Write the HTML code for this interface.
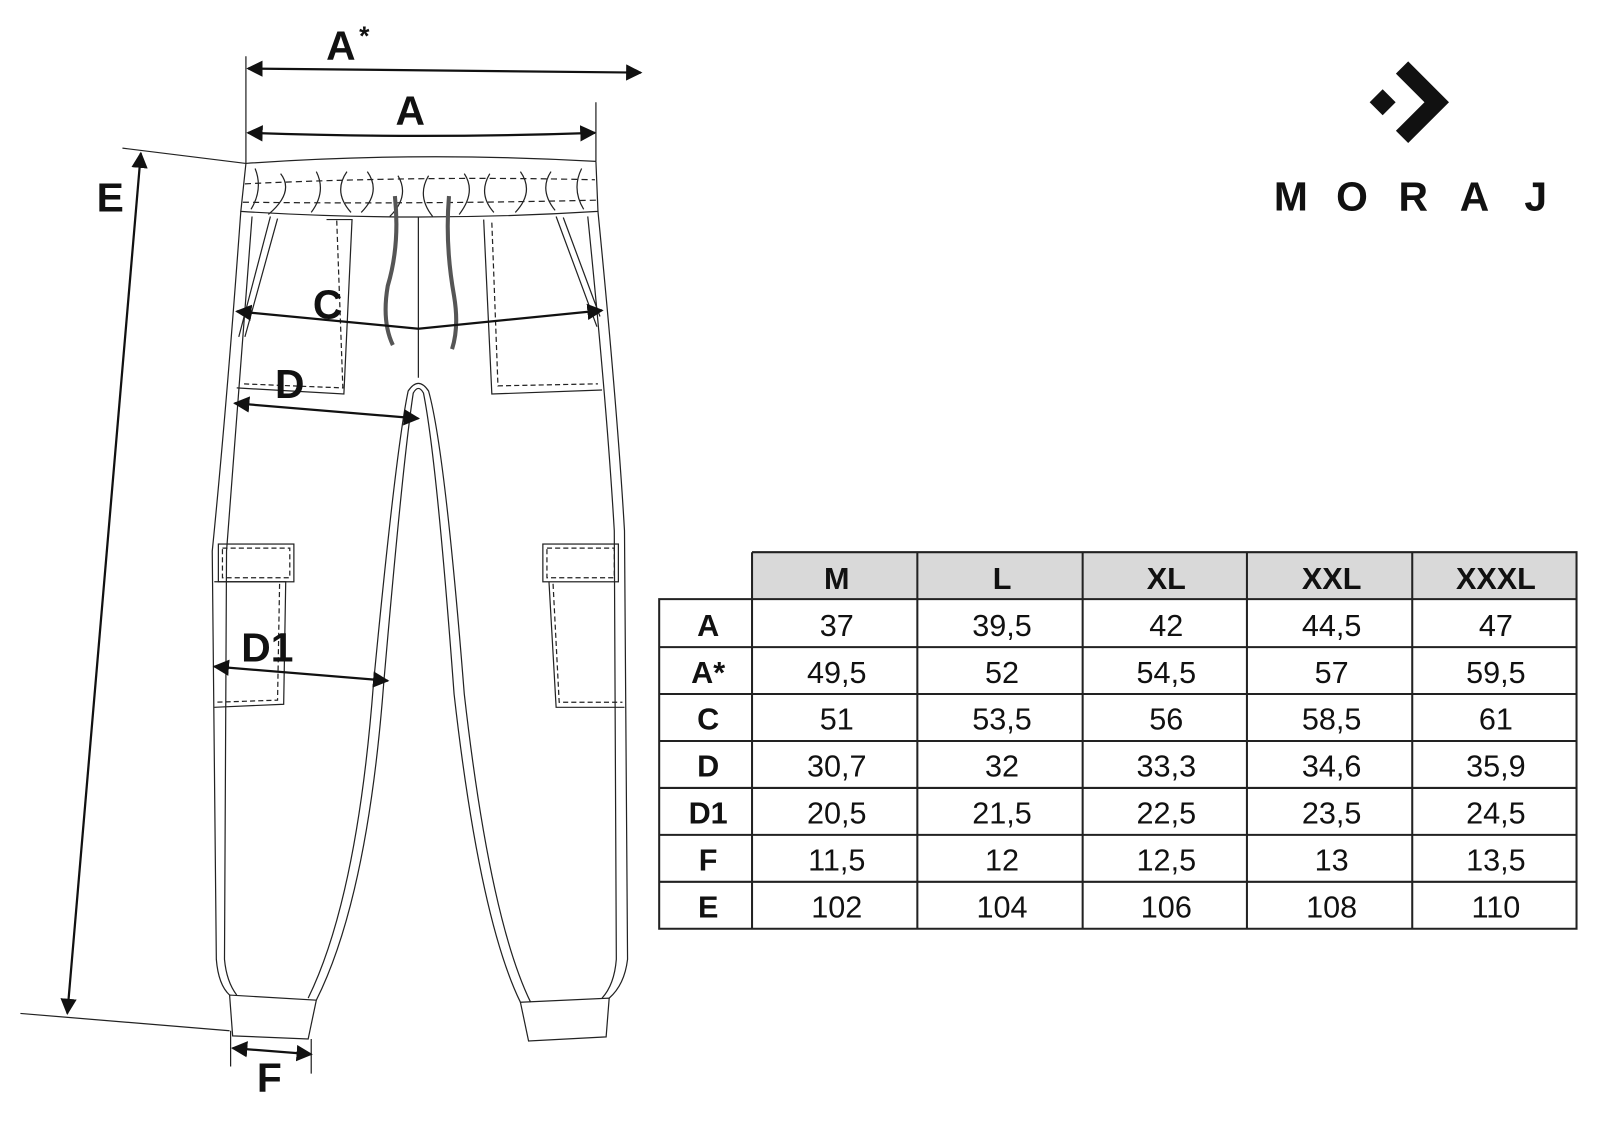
<!DOCTYPE html>
<html><head><meta charset="utf-8"><style>
html,body{margin:0;padding:0;background:#fff;}
svg{display:block;}
text{font-family:"Liberation Sans",Arial,sans-serif;}
</style></head><body>
<svg width="1600" height="1134" viewBox="0 0 1568 1111" xmlns="http://www.w3.org/2000/svg">
<defs>
<marker id="ar" viewBox="0 0 10 10" refX="9" refY="5" markerWidth="16" markerHeight="16" markerUnits="userSpaceOnUse" orient="auto-start-reverse"><path d="M0,0 L10,5 L0,10 z" fill="#111"/></marker>
</defs>
<rect width="1568" height="1111" fill="#fff"/>
<g fill="none" stroke="#222" stroke-width="1.2">
<path d="M241,160 Q410,148 584,158"/>
<path d="M241,160 L236,207 Q410,218 586,207 L584,158"/>
<path d="M240,180 Q410,172 583,176" stroke-dasharray="6,4"/>
<path d="M238,198 Q410,200 585,196" stroke-dasharray="6,4"/>
<path d="M250,165 q8,20 -4,40 M275,170 q14,18 -12,40 M310,168 q10,20 -5,40 M340,168 q-14,20 4,40 M360,168 q14,20 -6,40 M390,172 q12,20 -8,40 M420,172 q-12,20 4,40 M455,170 q12,18 -5,40 M480,170 q-12,20 4,38 M510,168 q14,20 -5,40 M540,168 q-12,18 4,38 M570,165 q-10,20 2,40"/>
<path d="M236,207 Q222,400 208,540 L212,940 Q214,965 225,975"/>
<path d="M247,212 Q232,400 222,540 L220,940 Q222,962 232,975"/>
<path d="M586,207 Q605,400 612,520 L615,940 Q612,965 597,978"/>
<path d="M576,212 Q595,400 602,520 L604,940 Q602,965 590,978"/>
<path d="M310,980 Q360,880 376,670 Q395,450 405,385 Q410,376 415,385 Q428,450 445,680 Q470,900 510,982"/>
<path d="M302,978 Q350,880 366,670 Q388,440 400,383 Q410,368 420,383 Q436,440 455,680 Q480,900 520,982"/>
<path d="M410,213 L410,370"/>
<path d="M225,975 L310,980 L302,1018 L228,1015 Z"/>
<path d="M510,982 L597,978 L594,1016 L518,1020 Z"/>
<path d="M320,215 L345,215 L337,386 L232,380"/>
<path d="M330,216 L336,380 L238,376" stroke-dasharray="5,3"/>
<path d="M265,212 L234,330 M272,214 L240,330" />
<path d="M474,215 L482,386 L590,382"/>
<path d="M482,218 L488,378 L586,376" stroke-dasharray="5,3"/>
<path d="M545,212 L585,320 M552,213 L588,310"/>
<rect x="214" y="533" width="74" height="37"/>
<rect x="218" y="537" width="66" height="29" stroke-dasharray="5,3"/>
<path d="M210,570 L280,570 L278,690 L210,693"/>
<path d="M274,572 L272,686 L212,688" stroke-dasharray="5,3"/>
<rect x="532" y="533" width="74" height="37"/>
<rect x="536" y="537" width="66" height="29" stroke-dasharray="5,3"/>
<path d="M538,570 L545,693 L612,693"/>
<path d="M542,572 L548,688 L610,688" stroke-dasharray="5,3"/>
<path d="M241,55 L241,160 M584,100 L584,158 M120,145 L241,160 M20,993 L225,1010 M226,1010 L226,1045 M305,1018 L305,1052"/>
</g>
<path d="M387,192 Q392,240 380,280 Q374,315 385,338" fill="none" stroke="#555" stroke-width="4"/>
<path d="M440,192 Q436,240 445,290 Q450,320 443,342" fill="none" stroke="#555" stroke-width="4"/>
<g stroke="#111" stroke-width="2.2" fill="none" marker-start="url(#ar)" marker-end="url(#ar)">
<line x1="243" y1="67" x2="628" y2="71"/>
<path d="M243,130 Q410,136 583,130"/>
<line x1="138" y1="150" x2="66" y2="993"/>
<path d="M232,305 L410,322 L590,304"/>
<line x1="230" y1="395" x2="410" y2="410"/>
<line x1="210" y1="653" x2="380" y2="667"/>
<line x1="228" y1="1027" x2="305" y2="1033"/>
</g>
<g font-weight="bold" font-size="40" fill="#111" text-anchor="middle">
<text x="334" y="58">A</text><text x="357" y="44" font-size="26">*</text>
<text x="402" y="122">A</text>
<text x="108" y="207">E</text>
<text x="321" y="312">C</text>
<text x="284" y="390">D</text>
<text x="262" y="648">D1</text>
<text x="264" y="1070">F</text>
</g>
<rect x="1346" y="91" width="18" height="18" transform="rotate(45 1355 100)" fill="#111"/>
<polyline points="1374,66 1408,100 1374,134" fill="none" stroke="#111" stroke-width="17"/>
<g font-size="40" font-weight="bold" fill="#111" text-anchor="middle">
<text x="1265" y="206">M</text><text x="1325" y="206">O</text><text x="1385" y="206">R</text><text x="1445" y="206">A</text><text x="1505" y="206">J</text>
</g>
<rect x="737" y="541" width="808" height="46" fill="#d9d9d9"/>
<g stroke="#222" stroke-width="2" fill="none">
<path d="M737,541 H1545 V910 H646 V587 H1545"/>
<path d="M737,541 V910 M899,541 V910 M1061,541 V910 M1222,541 V910 M1384,541 V910"/>
<path d="M646,634 H1545 M646,680 H1545 M646,726 H1545 M646,772 H1545 M646,818 H1545 M646,864 H1545"/>
</g>
<g font-size="30" fill="#111" text-anchor="middle">
<g font-weight="bold"><text x="820" y="577">M</text><text x="982" y="577">L</text><text x="1143" y="577">XL</text><text x="1305" y="577">XXL</text><text x="1466" y="577">XXXL</text>
<text x="694" y="623">A</text><text x="694" y="669">A*</text><text x="694" y="715">C</text><text x="694" y="761">D</text><text x="694" y="807">D1</text><text x="694" y="853">F</text><text x="694" y="899">E</text></g>
<text x="820" y="623">37</text><text x="982" y="623">39,5</text><text x="1143" y="623">42</text><text x="1305" y="623">44,5</text><text x="1466" y="623">47</text>
<text x="820" y="669">49,5</text><text x="982" y="669">52</text><text x="1143" y="669">54,5</text><text x="1305" y="669">57</text><text x="1466" y="669">59,5</text>
<text x="820" y="715">51</text><text x="982" y="715">53,5</text><text x="1143" y="715">56</text><text x="1305" y="715">58,5</text><text x="1466" y="715">61</text>
<text x="820" y="761">30,7</text><text x="982" y="761">32</text><text x="1143" y="761">33,3</text><text x="1305" y="761">34,6</text><text x="1466" y="761">35,9</text>
<text x="820" y="807">20,5</text><text x="982" y="807">21,5</text><text x="1143" y="807">22,5</text><text x="1305" y="807">23,5</text><text x="1466" y="807">24,5</text>
<text x="820" y="853">11,5</text><text x="982" y="853">12</text><text x="1143" y="853">12,5</text><text x="1305" y="853">13</text><text x="1466" y="853">13,5</text>
<text x="820" y="899">102</text><text x="982" y="899">104</text><text x="1143" y="899">106</text><text x="1305" y="899">108</text><text x="1466" y="899">110</text>
</g>
</svg>
</body></html>
